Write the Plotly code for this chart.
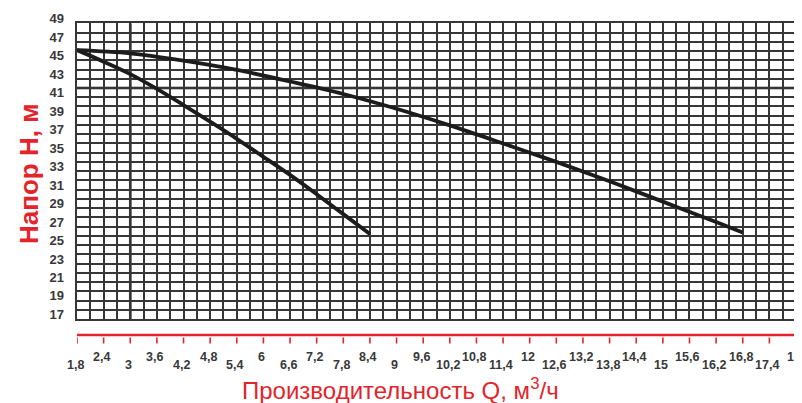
import plotly.graph_objects as go

# ---------------- data ----------------
q_ticks = [1.8, 2.4, 3.0, 3.6, 4.2, 4.8, 5.4, 6.0, 6.6, 7.2, 7.8, 8.4, 9.0, 9.6,
           10.2, 10.8, 11.4, 12.0, 12.6, 13.2, 13.8, 14.4, 15.0, 15.6, 16.2, 16.8, 17.4, 18.0]
q_labels = ["1,8", "2,4", "3", "3,6", "4,2", "4,8", "5,4", "6", "6,6", "7,2", "7,8", "8,4", "9", "9,6",
            "10,2", "10,8", "11,4", "12", "12,6", "13,2", "13,8", "14,4", "15", "15,6", "16,2", "16,8", "17,4", "18"]
h_ticks = [49, 47, 45, 43, 41, 39, 37, 35, 33, 31, 29, 27, 25, 23, 21, 19, 17]
h_labels = ["49", "47", "45", "43", "41", "39", "37", "35", "33", "31", "29", "27", "25", "23", "21", "19", "17"]

curve1_q = [1.8, 2.4, 3.0, 3.6, 4.2, 4.8, 5.4, 6.0, 6.6, 7.2, 7.8, 8.4]
curve1_h = [45.6, 44.35, 43.0, 41.4, 39.65, 37.85, 36.0, 34.05, 32.1, 30.0, 27.85, 25.7]

curve2_q = [1.8, 3.0, 4.2, 5.4, 6.6, 7.8, 9.0, 10.2, 11.4, 12.6, 13.8, 15.0, 16.2, 16.8]
curve2_h = [45.6, 45.25, 44.45, 43.45, 42.2, 40.85, 39.25, 37.45, 35.5, 33.5, 31.4, 29.2, 27.0, 25.85]

op_q = 3.0      # bold vertical reference line
op_h = 41.5     # bold horizontal reference line

q_min, q_max, q_step = 1.8, 18.0, 0.3
h_min, h_max, h_step = 16.5, 48.5, 1.0

# ---------------- styling ----------------
RED = "#e3242b"
GRID = "#363636"
TXT = "#383838"
FONT = "Liberation Sans, Arial, sans-serif"

OFF = 8  # page body margin of the html page
W, H = 802 - OFF, 403 - OFF
m_l, m_r, m_t, m_b = 77 - OFF, 6, 10 - OFF, 68
grid_top_px, grid_bot_px = 23.3 - OFF, 319.0 - OFF
paper_h = H - m_t - m_b
paper_w = W - m_l - m_r
y_dom = [(H - m_b - grid_bot_px) / paper_h, (H - m_b - grid_top_px) / paper_h]
px_per_unit = (grid_bot_px - grid_top_px) / (h_max - h_min)
h_label_top = h_max + (grid_top_px - m_t) / px_per_unit


def py(px):
    """reference pixel row -> paper y"""
    return (H - m_b - (px - OFF)) / paper_h


def pxx(px):
    """reference pixel column -> paper x"""
    return ((px - OFF) - m_l) / paper_w


n_gx = int(round((q_max - q_min) / q_step))
grid_q = [round(q_min + q_step * i, 2) for i in range(n_gx + 1)]
n_gy = int(round((h_max - h_min) / h_step))
grid_h = [round(h_min + h_step * i, 2) for i in range(n_gy + 1)]

fig = go.Figure()

line_style = dict(color="#1c1c1c", width=3.8)
fig.add_trace(go.Scatter(x=curve1_q, y=curve1_h, mode="lines", line=line_style,
                         line_shape="spline", showlegend=False, hoverinfo="skip"))
fig.add_trace(go.Scatter(x=curve2_q, y=curve2_h, mode="lines", line=line_style,
                         line_shape="spline", showlegend=False, hoverinfo="skip"))
# invisible carrier for the label axis (y2)
fig.add_trace(go.Scatter(x=[q_min] * len(h_ticks), y=h_ticks, xaxis="x2", yaxis="y2",
                         mode="markers", marker=dict(opacity=0), showlegend=False,
                         hoverinfo="skip"))

annotations = []
# x tick labels, alternating low/high
for i, (q, lab) in enumerate(zip(q_ticks, q_labels)):
    annotations.append(dict(text=lab, xref="x", yref="paper", x=q, xshift=-2,
                            y=py(365 if i % 2 == 0 else 357),
                            xanchor="center", yanchor="middle", showarrow=False,
                            font=dict(family=FONT, size=12.5, color=TXT, weight="bold")))
annotations += [
    dict(text="Производительность Q, м<sup>3</sup>/ч", xref="paper", yref="paper",
         x=pxx(400), y=py(389), xanchor="center", yanchor="middle", showarrow=False,
         font=dict(family=FONT, size=24, color=RED)),
    dict(text="Напор Н, м", xref="paper", yref="paper",
         x=pxx(29), y=py(174), xanchor="center", yanchor="middle", showarrow=False,
         textangle=-90, font=dict(family=FONT, size=26, color=RED, weight="bold")),
]

shapes = [
    dict(type="line", xref="x", yref="y", x0=op_q, x1=op_q, y0=h_min, y1=h_max,
         line=dict(color="#111111", width=2.6), layer="below"),
    dict(type="line", xref="x", yref="y", x0=q_min, x1=q_max, y0=op_h, y1=op_h,
         line=dict(color="#111111", width=2.6), layer="below"),
    # red axis line
    dict(type="line", xref="x", yref="paper", x0=q_min, x1=q_max, y0=py(335), y1=py(335),
         line=dict(color=RED, width=2.6)),
]
for q in q_ticks:
    shapes.append(dict(type="line", xref="x", yref="paper", x0=q, x1=q,
                       y0=py(337.5), y1=py(343.5), line=dict(color=RED, width=1.6)))

fig.update_layout(
    width=W, height=H, autosize=False,
    margin=dict(l=m_l, r=m_r, t=m_t, b=m_b),
    paper_bgcolor="white", plot_bgcolor="rgba(0,0,0,0)",
    showlegend=False,
    xaxis=dict(domain=[0, 1], range=[q_min, q_max], anchor="y",
               tickmode="array", tickvals=grid_q, showticklabels=False, ticks="",
               showgrid=True, gridcolor=GRID, gridwidth=1.6, zeroline=False,
               showline=True, mirror=True, linecolor=GRID, linewidth=1.6),
    yaxis=dict(domain=y_dom, range=[h_min, h_max], anchor="x",
               tickmode="array", tickvals=grid_h, showticklabels=False, ticks="",
               showgrid=True, gridcolor=GRID, gridwidth=1.6, zeroline=False,
               showline=True, mirror=True, linecolor=GRID, linewidth=1.6),
    xaxis2=dict(domain=[0, 1], range=[q_min, q_max], anchor="y2", visible=False),
    yaxis2=dict(domain=[y_dom[0], 1], range=[h_min, h_label_top], anchor="x2", side="left",
                tickmode="array", tickvals=h_ticks, ticktext=h_labels, ticks="",
                showgrid=False, zeroline=False, showline=False,
                tickfont=dict(family=FONT, size=13, color=TXT, weight="bold"),
                ticklabelstandoff=12),
    shapes=shapes,
    annotations=annotations,
)

fig.write_html("out.html")
